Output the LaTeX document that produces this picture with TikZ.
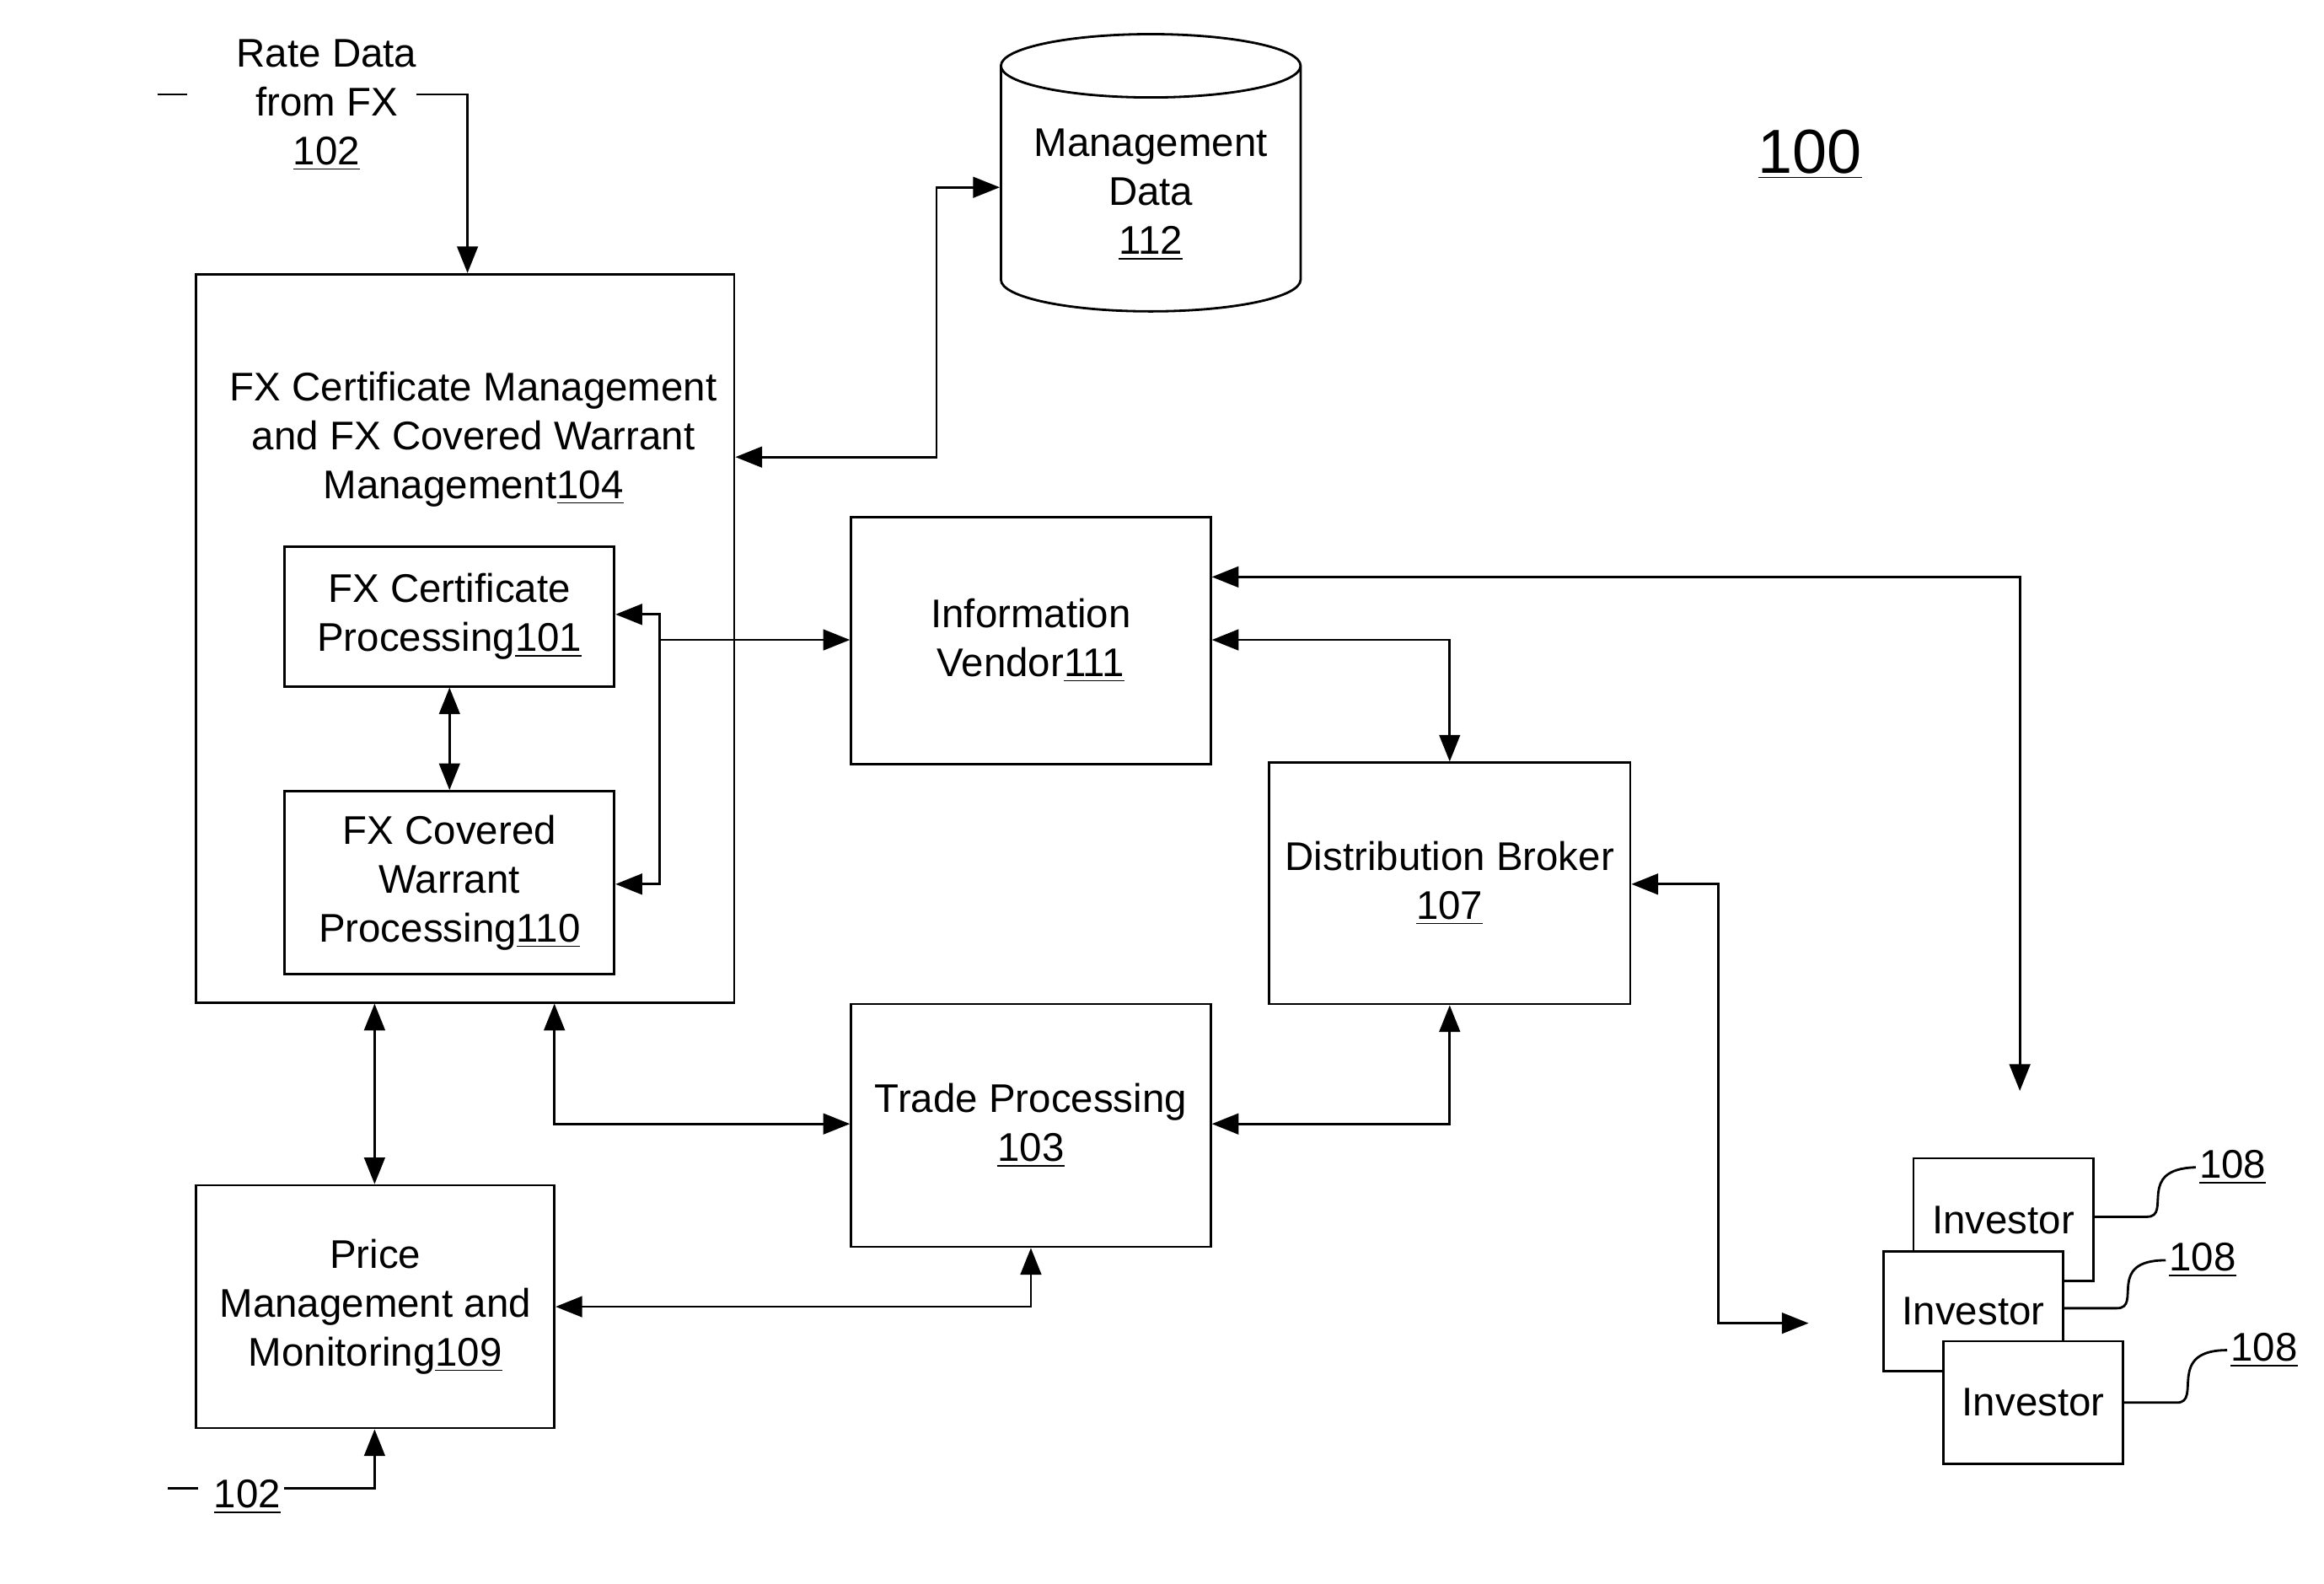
\documentclass[tikz,border=0pt]{standalone}
\usepackage{fontspec}
\setmainfont{Liberation Sans}
\usetikzlibrary{arrows.meta,shapes.geometric}
\newcommand{\ulnum}[1]{\underline{#1}}
\tikzset{
	blk/.style = {draw, thick, fill=white, align=center, inner sep=0pt},
	lbl/.style = {align=center, inner sep=1pt},
	con/.style = {thick, -{Triangle[length=9pt,width=7pt]}},
	dcon/.style = {thick, {Triangle[length=9pt,width=7pt]}-{Triangle[length=9pt,width=7pt]}},
}
\begin{document}
\begin{tikzpicture}[x=0.01778cm, y=-0.01778cm, font=\fontsize{13.5}{16.5}\selectfont]
	\useasboundingbox (0,0) rectangle (1551,1057);

	% input label
	\node[lbl] (rate) at (218,70) {Rate Data\\from FX\\\ulnum{102}};
	\coordinate (rateL) at (105,63);
	\draw[thick] (rateL) -- ++(20,0);
	\coordinate (rateR) at (278,63);

	% main box
	\node[blk, minimum width=359*0.01778cm, minimum height=486*0.01778cm] (mgmt) at (310.5,426) {};
	\node[lbl] (mgmtT) at (316,293) {FX Certificate Management\\and FX Covered Warrant\\Management\ulnum{104}};
	\node[blk, minimum width=220*0.01778cm, minimum height=93*0.01778cm] (cert) at (300,411.5) {FX Certificate\\Processing\ulnum{101}};
	\node[blk, minimum width=220*0.01778cm, minimum height=122*0.01778cm] (warr) at (300,589) {FX Covered\\Warrant\\Processing\ulnum{110}};

	% other boxes
	\node[draw, thick, cylinder, shape border rotate=90, aspect=0.25, minimum width=200*0.01778cm, minimum height=185*0.01778cm, align=center] (data) at (768,130) {Management\\Data\\\ulnum{112}};
	\node[blk, minimum width=240*0.01778cm, minimum height=165*0.01778cm] (vend) at (688,427.5) {Information\\Vendor\ulnum{111}};
	\node[blk, minimum width=241*0.01778cm, minimum height=161*0.01778cm] (brok) at (967.5,589.5) {Distribution Broker\\\ulnum{107}};
	\node[blk, minimum width=240*0.01778cm, minimum height=162*0.01778cm] (trade) at (688,751) {Trade Processing\\\ulnum{103}};
	\node[blk, minimum width=239*0.01778cm, minimum height=162*0.01778cm] (price) at (250.5,872) {Price\\Management and\\Monitoring\ulnum{109}};
	\node[lbl, font=\fontsize{21}{25}\selectfont] (sys) at (1208,103) {\ulnum{100}};

	% investors
	\node[blk, minimum width=120*0.01778cm, minimum height=82*0.01778cm] (invA) at (1337,814) {Investor};
	\node[blk, minimum width=120*0.01778cm, minimum height=80*0.01778cm] (invB) at (1317,875) {Investor};
	\node[blk, minimum width=120*0.01778cm, minimum height=82*0.01778cm] (invC) at (1357,936) {Investor};
	\node[lbl] (refA) at (1490,779) {\ulnum{108}};
	\node[lbl] (refB) at (1470,841) {\ulnum{108}};
	\node[lbl] (refC) at (1511,901) {\ulnum{108}};
	\draw[thick] (invA.east) ++(0,-2) -- ++(35,0) .. controls (1450,812) and (1425,780) .. (refA.west);
	\draw[thick] (invB.east) ++(0,-2) -- ++(35,0) .. controls (1430,873) and (1405,841) .. (refB.west);
	\draw[thick] (invC.east) -- ++(35,0) .. controls (1470,936) and (1445,901) .. (refC.west);

	% free ends
	\coordinate (invTop) at (1348,728);
	\coordinate (invIn) at (1207,883);

	% connectors
	\draw[con] (rateR) -| (mgmt.north -| 312,0);
	\draw[dcon] (cert) -- (warr);
	\draw[con] (440,427) -- (vend.west |- 0,427);
	\draw[dcon] (cert.east |- 0,410) -- (440,410) -- (440,590) -- (warr.east |- 0,590);
	\draw[dcon] (mgmt.east |- 0,305) -- (625,305) |- (data.west |- 0,125);
	\draw[dcon] (vend.east |- 0,385) -| (invTop);
	\draw[dcon] (vend.east |- 0,427) -| (brok.north);
	\draw[dcon] (brok.east |- 0,590) -- (1147,590) |- (invIn);
	\draw[dcon] (trade.east |- 0,750) -| (brok.south);
	\draw[dcon] (mgmt.south -| 370,0) |- (trade.west |- 0,750);
	\draw[dcon] (mgmt.south -| 250,0) -- (price.north -| 250,0);
	\draw[dcon] (price.east |- 0,872) -| (trade.south);

	% lower input
	\node[lbl] (low) at (165,999) {\ulnum{102}};
	\draw[thick] (112,993) -- ++(20,0);
	\draw[con] (low.east |- 0,993) -| (price.south -| 250,0);
\end{tikzpicture}
\end{document}
